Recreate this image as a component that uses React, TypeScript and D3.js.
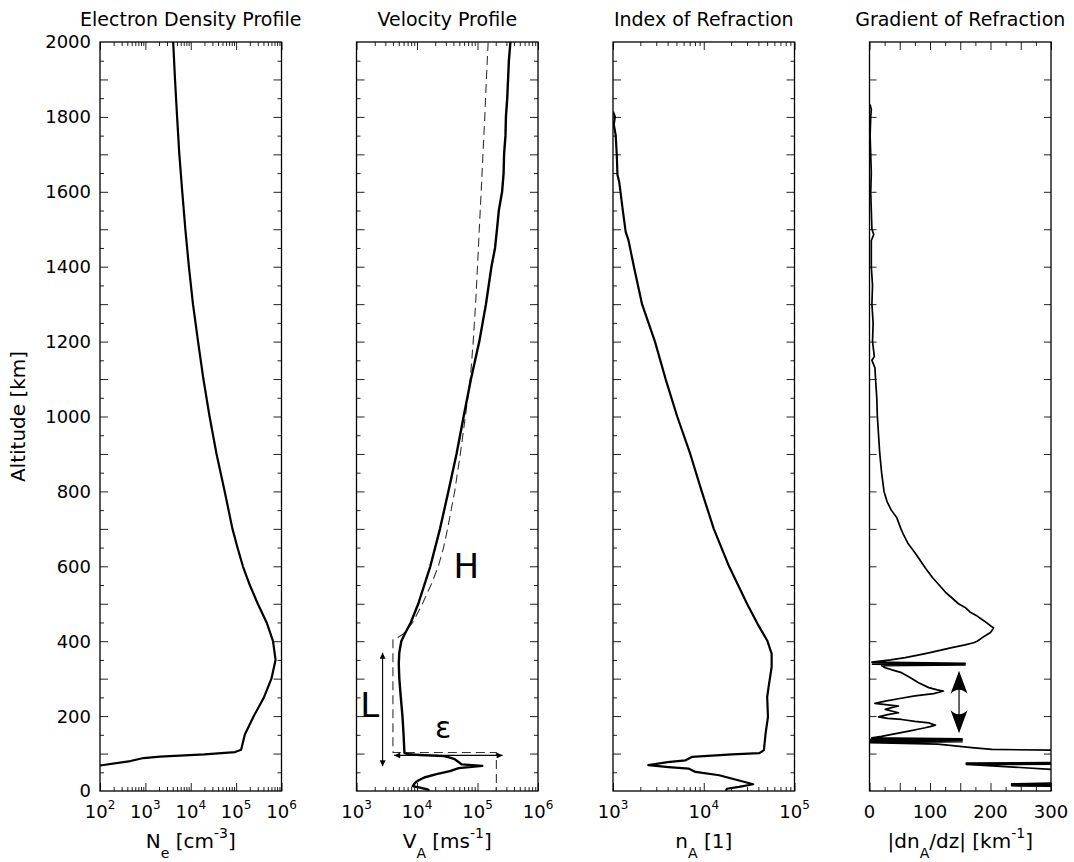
import React, { useEffect, useRef } from 'react';
import * as d3 from 'd3';

// Electron density profile: altitude [km] and N_e [cm^-3]
const densityAlt = [2000, 1900, 1800, 1700, 1600, 1500, 1400, 1300, 1200, 1100, 1000, 900, 800, 700, 650, 600, 550, 500, 450, 400, 350, 300, 250, 200, 150, 110, 104, 98, 92, 88, 80, 68];
const densityNe = [4.1e3, 4.5e3, 5.0e3, 5.6e3, 6.5e3, 7.6e3, 9.1e3, 1.12e4, 1.45e4, 1.9e4, 2.6e4, 3.7e4, 5.6e4, 8.3e4, 1.07e5, 1.41e5, 2.0e5, 3.0e5, 4.7e5, 6.5e5, 7.4e5, 6.0e5, 4.1e5, 2.45e5, 1.55e5, 1.29e5, 9.5e4, 2.0e4, 2.1e3, 910, 470, 100];

// Alfven velocity profile (solid) [m/s]
const velocityAlt = [2000, 1950, 1900, 1850, 1800, 1750, 1700, 1650, 1600, 1550, 1500, 1450, 1400, 1300, 1200, 1100, 1000, 900, 800, 700, 600, 500, 450, 420, 400, 370, 340, 300, 250, 200, 150, 102, 98, 96, 93, 89, 85, 71, 67, 61, 53, 45, 36, 28, 22, 13, 9, 4, 0];
const velocityVa = [3.5e5, 3.3e5, 3.2e5, 3.1e5, 2.95e5, 2.9e5, 2.75e5, 2.7e5, 2.55e5, 2.25e5, 2.1e5, 1.95e5, 1.7e5, 1.38e5, 1.07e5, 7.8e4, 5.9e4, 4.5e4, 3.3e4, 2.4e4, 1.66e4, 1.05e4, 7.9e3, 6.3e3, 5.5e3, 5.1e3, 5.0e3, 5.1e3, 5.4e3, 5.75e3, 6.0e3, 6.2e3, 7.1e3, 1.12e4, 2.8e4, 3.5e4, 4.2e4, 5.5e4, 1.2e5, 4.9e4, 3.5e4, 2.1e4, 1.32e4, 1.05e4, 9.3e3, 8.5e3, 1.12e4, 1.5e4, 1.6e4];

// model profile (dashed)
const modelAlt = [2000, 1900, 1800, 1700, 1600, 1500, 1400, 1300, 1200, 1100, 1000, 900, 800, 700, 650, 600, 550, 500, 450, 420, 410, 405];
const modelVa = [1.5e5, 1.4e5, 1.32e5, 1.23e5, 1.15e5, 1.07e5, 1.0e5, 9.3e4, 8.5e4, 7.6e4, 6.3e4, 5.2e4, 4.2e4, 3.2e4, 2.75e4, 2.25e4, 1.7e4, 1.23e4, 8.5e3, 6.0e3, 4.8e3, 4.0e3];

// dashed box of the low layer
const boxAlt = [405, 103, 103, 0];
const boxVa = [4.0e3, 4.0e3, 2.05e5, 2.05e5];

// arrows and letters in the velocity panel
const lArrowAlt = [369, 66];
const lArrowVa = 2.7e3;
const epsArrowVa = [4.2e3, 2.6e5];
const epsArrowAlt = 95;
const letters = ['H', 'L', 'ε'];
const letterVa = [6.5e4, 1.66e3, 2.7e4];
const letterAlt = [569, 198, 142];

// Index of refraction n_A
const indexAlt = [1814, 1800, 1780, 1752, 1700, 1645, 1627, 1546, 1493, 1471, 1400, 1300, 1200, 1100, 1000, 900, 800, 700, 600, 500, 447, 402, 367, 331, 287, 251, 198, 153, 109, 101, 98, 91, 82, 77, 69, 64, 60, 51, 42, 28, 18, 11, 6, 0];
const indexNa = [1000, 1050, 1020, 1070, 1100, 1120, 1170, 1290, 1380, 1480, 1700, 2090, 2900, 3800, 5100, 7100, 9500, 1.29e4, 1.9e4, 3.0e4, 3.9e4, 5.0e4, 5.6e4, 5.6e4, 5.25e4, 5.0e4, 5.1e4, 4.8e4, 4.6e4, 4.1e4, 2.05e4, 7400, 6300, 4000, 2450, 4100, 6800, 8100, 1.48e4, 2.45e4, 3.5e4, 2.45e4, 1.8e4, 1.75e4];

// Gradient of refraction |dn_A/dz| [km^-1]
const gradAlt = [
  1833, 1820, 1800, 1750, 1700, 1650, 1600, 1550, 1500, 1486,
  1470, 1400, 1350, 1300, 1250, 1200, 1160, 1150, 1130, 1100,
  1050, 1000, 950, 900, 850, 800, 773, 750, 730, 700,
  685, 660, 641, 620, 596, 570, 552, 530, 516, 500,
  490, 478, 467, 458, 449, 440, 436, 430, 423, 415,
  409, 400, 396, 390, 383, 376, 369, 362, 356, 350,
  344, 341, 339, 337, 335, 329, 322, 316, 303, 289,
  276, 270, 267, 265, 260, 254, 247, 240, 234, 230,
  227, 222, 218, 213, 209, 204, 198, 194, 191, 186,
  182, 178, 176, 172, 169, 165, 160, 155, 151, 146,
  142, 139.5, 138, 136, 133, 131.5, 129, 125, 116, 111,
  109, 107, 78, 76, 74.5, 73.5, 72.5, 71.5, 71, 58,
  56, 22, 21, 19, 18, 17, 16, 14, 13, 11, 0,
];
const gradVal = [
  1, 3, 2, 1, 2, 3, 2, 3, 4, 7,
  3, 3, 5, 4, 6, 5, 8, 4, 9, 10,
  12, 13, 15, 17, 20, 24, 29, 36, 45, 52,
  56, 64, 73, 82, 92, 104, 114, 126, 136, 147,
  158, 166, 178, 186, 194, 201, 205, 203, 200, 192,
  186, 178, 172, 158, 136, 118, 98, 78, 59, 35,
  4, 158, 5, 158, 20, 26, 40, 53, 67, 81,
  98, 112, 122, 118, 106, 75, 50, 26, 9, 30,
  48, 35, 26, 38, 48, 30, 15, 30, 53, 75,
  98, 105, 109, 100, 92, 80, 65, 50, 37, 20,
  4, 153, 0, 153, 0, 153, 0, 113, 169, 202,
  300, 450, 450, 300, 160, 300, 160, 300, 160, 300,
  450, 450, 300, 235, 300, 235, 300, 235, 300, 450, 450,
];
const gradArrowAlt = [321, 154];
const gradArrowVal = 148;

const panelTitles = ['Electron Density Profile', 'Velocity Profile', 'Index of Refraction', 'Gradient of Refraction'];
const altLabels = d3.range(0, 2001, 200);
const gradLabels = [0, 100, 200, 300];

type Part = { t: string; sub?: boolean; sup?: boolean };
const xTitles: Part[][] = [
  [{ t: 'N' }, { t: 'e', sub: true }, { t: ' [cm' }, { t: '-3', sup: true }, { t: ']' }],
  [{ t: 'V' }, { t: 'A', sub: true }, { t: ' [ms' }, { t: '-1', sup: true }, { t: ']' }],
  [{ t: 'n' }, { t: 'A', sub: true }, { t: ' [1]' }],
  [{ t: '|dn' }, { t: 'A', sub: true }, { t: '/dz| [km' }, { t: '-1', sup: true }, { t: ']' }],
];

const App = () => {
  const svgRef = useRef<SVGSVGElement>(null);

  useEffect(() => {
    const svg = d3.select(svgRef.current);
    svg.selectAll('*').remove();
    svg.attr('font-family', "'DejaVu Sans', 'Liberation Sans', sans-serif");

    const top = 42;
    const bottom = 791;
    const pw = 181.5;
    const lefts = [100, 356.5, 613, 869.5];

    const y = d3.scaleLinear().domain([0, 2000]).range([bottom, top]);
    const xs: any[] = [
      d3.scaleLog().domain([1e2, 1e6]).range([lefts[0], lefts[0] + pw]),
      d3.scaleLog().domain([1e3, 1e6]).range([lefts[1], lefts[1] + pw]),
      d3.scaleLog().domain([1e3, 1e5]).range([lefts[2], lefts[2] + pw]),
      d3.scaleLinear().domain([0, 300]).range([lefts[3], lefts[3] + pw]),
    ];

    const defs = svg.append('defs');
    defs.append('marker')
      .attr('id', 'arrowSmall')
      .attr('viewBox', '0 0 10 10')
      .attr('refX', 10)
      .attr('refY', 5)
      .attr('markerWidth', 7)
      .attr('markerHeight', 6)
      .attr('markerUnits', 'userSpaceOnUse')
      .attr('orient', 'auto-start-reverse')
      .append('path')
      .attr('d', 'M0,0 L10,5 L0,10 z')
      .attr('fill', '#000');

    const tickAxis = (axis: any, values: number[], size: number, transform: string) => {
      const g = svg.append('g')
        .attr('transform', transform)
        .call(axis.tickValues(values).tickSize(size).tickFormat(() => ''));
      g.select('.domain').remove();
      g.selectAll('text').remove();
      g.selectAll('line').attr('stroke', '#222').attr('stroke-width', 1);
    };

    const richText = (x: number, yPos: number, parts: Part[], size: number) => {
      const t = svg.append('text')
        .attr('x', x)
        .attr('y', yPos)
        .attr('text-anchor', 'middle')
        .attr('font-size', size);
      let shift = 0;
      parts.forEach(p => {
        const target = p.sub ? 10 : p.sup ? -10 : 0;
        t.append('tspan')
          .attr('dy', target - shift)
          .attr('font-size', p.sub || p.sup ? 14 : size)
          .text(p.t);
        shift = target;
      });
    };

    xs.forEach((x, i) => {
      const x0 = lefts[i];
      const x1 = lefts[i] + pw;

      defs.append('clipPath')
        .attr('id', `clip${i}`)
        .append('rect')
        .attr('x', x0)
        .attr('y', top)
        .attr('width', pw)
        .attr('height', bottom - top);

      // altitude ticks on both sides
      if (i < 3) {
        const major = d3.range(100, 2000, 100);
        const minor = d3.range(50, 2000, 100);
        tickAxis(d3.axisRight(y), major, 8, `translate(${x0},0)`);
        tickAxis(d3.axisRight(y), minor, 4, `translate(${x0},0)`);
        tickAxis(d3.axisLeft(y), major, 8, `translate(${x1},0)`);
        tickAxis(d3.axisLeft(y), minor, 4, `translate(${x1},0)`);
      } else {
        const major = d3.range(100, 2000, 100);
        tickAxis(d3.axisRight(y), major, 7, `translate(${x0},0)`);
        tickAxis(d3.axisLeft(y), major, 7, `translate(${x1},0)`);
      }

      // value ticks on bottom and top
      let major: number[];
      let minor: number[];
      if (i < 3) {
        const [a, b] = x.domain().map((v: number) => Math.round(Math.log10(v)));
        major = d3.range(a, b + 1).map(p => 10 ** p);
        minor = d3.range(a, b).flatMap(p => d3.range(2, 10).map(k => k * 10 ** p));
      } else {
        major = d3.range(0, 301, 50);
        minor = d3.range(25, 300, 50);
      }
      tickAxis(d3.axisTop(x), major, 8, `translate(0,${bottom})`);
      tickAxis(d3.axisTop(x), minor, 4, `translate(0,${bottom})`);
      tickAxis(d3.axisBottom(x), major, 8, `translate(0,${top})`);
      tickAxis(d3.axisBottom(x), minor, 4, `translate(0,${top})`);

      // frame
      svg.append('rect')
        .attr('x', x0)
        .attr('y', top)
        .attr('width', pw)
        .attr('height', bottom - top)
        .attr('fill', 'none')
        .attr('stroke', '#000')
        .attr('stroke-width', 1.3);

      // tick labels
      if (i < 3) {
        const decades = d3.range(
          Math.round(Math.log10(x.domain()[0])),
          Math.round(Math.log10(x.domain()[1])) + 1,
        );
        decades.forEach(p => {
          const t = svg.append('text')
            .attr('x', x(10 ** p))
            .attr('y', 818)
            .attr('text-anchor', 'middle')
            .attr('font-size', 18);
          t.append('tspan').text('10');
          t.append('tspan').attr('dy', -9).attr('font-size', 12).text(String(p));
        });
      } else {
        gradLabels.forEach(v => {
          svg.append('text')
            .attr('x', x(v))
            .attr('y', 818)
            .attr('text-anchor', 'middle')
            .attr('font-size', 18)
            .text(String(v));
        });
      }

      // titles
      svg.append('text')
        .attr('x', (x0 + x1) / 2)
        .attr('y', 26)
        .attr('text-anchor', 'middle')
        .attr('font-size', 19)
        .text(panelTitles[i]);
      richText((x0 + x1) / 2, 848, xTitles[i], 20);
    });

    // altitude labels
    altLabels.forEach(v => {
      svg.append('text')
        .attr('x', lefts[0] - 9)
        .attr('y', y(v))
        .attr('dy', '0.36em')
        .attr('text-anchor', 'end')
        .attr('font-size', 18)
        .text(String(v));
    });
    svg.append('text')
      .attr('transform', `translate(18,${(top + bottom) / 2}) rotate(-90)`)
      .attr('text-anchor', 'middle')
      .attr('dy', '0.36em')
      .attr('font-size', 20)
      .text('Altitude [km]');

    const curve = (i: number, alts: number[], vals: number[], width: number, dash?: string) => {
      const line = d3.line<number>()
        .x(k => xs[i](vals[k]))
        .y(k => y(alts[k]));
      const p = svg.append('path')
        .datum(d3.range(alts.length))
        .attr('clip-path', `url(#clip${i})`)
        .attr('fill', 'none')
        .attr('stroke', '#000')
        .attr('stroke-width', width)
        .attr('stroke-linejoin', 'round')
        .attr('d', line);
      if (dash) p.attr('stroke-dasharray', dash).attr('stroke', '#333');
      return p;
    };

    curve(0, densityAlt, densityNe, 2.2);
    curve(1, modelAlt, modelVa, 1.1, '9,5');
    curve(1, boxAlt, boxVa, 1.1, '9,5');
    curve(1, velocityAlt, velocityVa, 2.4);
    curve(2, indexAlt, indexNa, 2.2);
    curve(3, gradAlt, gradVal, 1.7);

    // L and epsilon arrows
    svg.append('line')
      .attr('x1', xs[1](lArrowVa))
      .attr('x2', xs[1](lArrowVa))
      .attr('y1', y(lArrowAlt[0]))
      .attr('y2', y(lArrowAlt[1]))
      .attr('stroke', '#000')
      .attr('stroke-width', 1.1)
      .attr('marker-start', 'url(#arrowSmall)')
      .attr('marker-end', 'url(#arrowSmall)');
    svg.append('line')
      .attr('x1', xs[1](epsArrowVa[0]))
      .attr('x2', xs[1](epsArrowVa[1]))
      .attr('y1', y(epsArrowAlt))
      .attr('y2', y(epsArrowAlt))
      .attr('stroke', '#000')
      .attr('stroke-width', 1.1)
      .attr('marker-start', 'url(#arrowSmall)')
      .attr('marker-end', 'url(#arrowSmall)');

    letters.forEach((s, k) => {
      svg.append('text')
        .attr('x', xs[1](letterVa[k]))
        .attr('y', y(letterAlt[k]))
        .attr('text-anchor', 'middle')
        .attr('font-size', k === 2 ? 30 : 34)
        .text(s);
    });

    // double arrow in the gradient panel
    const ax = xs[3](gradArrowVal);
    const yT = y(gradArrowAlt[0]);
    const yB = y(gradArrowAlt[1]);
    svg.append('line')
      .attr('x1', ax)
      .attr('x2', ax)
      .attr('y1', yT + 12)
      .attr('y2', yB - 12)
      .attr('stroke', '#000')
      .attr('stroke-width', 1.2);
    svg.append('path')
      .attr('d', `M${ax},${yT} L${ax + 8.5},${yT + 23} Q${ax},${yT + 15} ${ax - 8.5},${yT + 23} Z`)
      .attr('fill', '#000');
    svg.append('path')
      .attr('d', `M${ax},${yB} L${ax + 8.5},${yB - 23} Q${ax},${yB - 15} ${ax - 8.5},${yB - 23} Z`)
      .attr('fill', '#000');
  }, []);

  return (
    <svg
      ref={svgRef}
      width={1074}
      height={862}
      style={{ position: 'absolute', left: 0, top: 0, background: '#fff' }}
    ></svg>
  );
};

export default App;
